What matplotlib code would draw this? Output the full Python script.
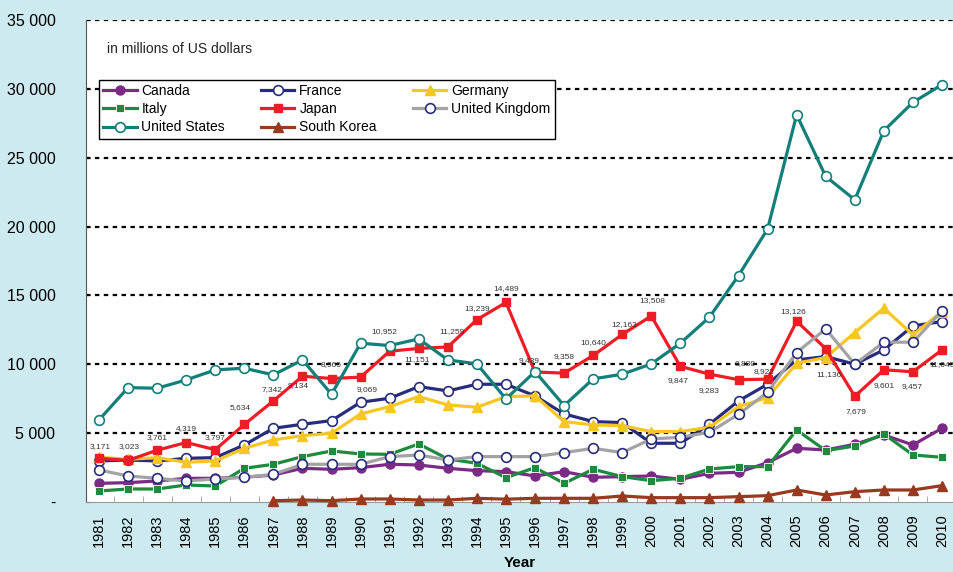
import matplotlib
matplotlib.use("Agg")
import matplotlib.pyplot as plt
from matplotlib.ticker import FixedLocator

plt.rcParams['font.family'] = ['Liberation Sans', 'DejaVu Sans']

years = list(range(1981, 2011))

canada = [1356, 1405, 1526, 1720, 1720, 1800, 1962, 2447, 2374, 2495, 2738, 2689, 2447, 2277, 2204,
          1889, 2204, 1793, 1841, 1889, 1647, 2083, 2156, 2858, 3900, 3779, 4190, 4869, 4142, 5353]
france = [2980, 3050, 2980, 3173, 3222, 4142, 5353, 5644, 5910, 7243, 7534, 8380, 8066, 8550, 8550,
          7703, 6395, 5838, 5765, 4265, 4265, 5644, 7340, 8550, 10319, 10560, 10004, 11046, 12790, 13103]
germany = [3250, 3100, 3222, 2882, 2980, 3900, 4505, 4820, 4990, 6395, 6926, 7655, 7049, 6878, 7655,
           7703, 5838, 5596, 5547, 5111, 5111, 5426, 6926, 7582, 10077, 10489, 12306, 14074, 12136, 13830]
italy = [799, 945, 945, 1235, 1163, 2447, 2738, 3295, 3706, 3488, 3464, 4215, 3125, 2810, 1768,
         2495, 1356, 2374, 1841, 1550, 1720, 2398, 2568, 2568, 5232, 3730, 4069, 4941, 3415, 3246]
japan = [3171, 3023, 3761, 4319, 3797, 5634, 7342, 9134, 8965, 9069, 10952, 11151, 11259, 13239, 14489,
         9439, 9358, 10640, 12163, 13508, 9847, 9283, 8880, 8922, 13126, 11136, 7679, 9601, 9457, 11045]
uk = [2325, 1889, 1720, 1526, 1671, 1793, 2011, 2738, 2738, 2738, 3295, 3415, 3052, 3295, 3295,
      3295, 3585, 3900, 3585, 4578, 4700, 5063, 6371, 7970, 10852, 12572, 10004, 11605, 11605, 13880]
usa = [5959, 8306, 8260, 8866, 9593, 9714, 9229, 10319, 7826, 11531, 11360, 11845, 10319, 10028, 7485,
       9472, 6999, 8939, 9279, 10028, 11531, 13420, 16445, 19817, 28123, 23640, 21946, 26961, 29018, 30303]
korea_years = list(range(1987, 2011))
korea = [97, 145, 97, 218, 218, 145, 145, 267, 206, 267, 267, 267, 436, 315, 315, 315,
         388, 460, 872, 509, 750, 872, 872, 1187]

japan_labels = ['3,171', '3,023', '3,761', '4,319', '3,797', '5,634', '7,342', '9,134', '8,965', '9,069',
                '10,952', '11,151', '11,259', '13,239', '14,489', '9,439', '9,358', '10,640', '12,163',
                '13,508', '9,847', '9,283', '8,880', '8,922', '13,126', '11,136', '7,679', '9,601',
                '9,457', '11,045']

y_ticks = [0, 5000, 10000, 15000, 20000, 25000, 30000, 35000]
y_ticklabels = ['-', '5 000', '10 000', '15 000', '20 000', '25 000', '30 000', '35 000']

# label offsets in pixels (dx, dy up)
label_offsets = [(1, 12), (1, 14), (0, 13), (0, 14), (0, 12), (-4, 17), (-1, 11), (-4, -9), (0, 14),
                 (7, -12), (-5, 20), (-2, -11), (4, 15), (0, 11), (0, 14), (-6, 11), (0, 17), (0, 13),
                 (2, 10), (1, 15), (-2, -14), (0, -16), (7, 16), (-4, 8), (-3, 10), (3, -26), (1, -15),
                 (0, -16), (-1, -15), (0, -15)]

bg = '#CDEAF0'
fig = plt.figure(figsize=(9.54, 5.72), dpi=100, facecolor=bg)
ax = fig.add_axes([86 / 954, 70 / 572, 868 / 954, 482 / 572])
ax.set_facecolor('white')

lw = 2.3
series = [
    ('Canada', years, canada, dict(color='#7B2A86', marker='o', ms=6.5, mfc='#7B2A86', mec='#7B2A86')),
    ('France', years, france, dict(color='#272C7C', marker='o', ms=7, mfc='white', mec='#272C7C', mew=1.2)),
    ('Germany', years, germany, dict(color='#F6C623', marker='^', ms=7.5, mfc='#F6C623', mec='#F6C623')),
    ('Italy', years, italy, dict(color='#1E8A3E', marker='s', ms=5.5, mfc='#1E8A3E', mec='white', mew=0.6)),
    ('Japan', years, japan, dict(color='#EE1D25', marker='s', ms=5.5, mfc='#EE1D25', mec='#EE1D25')),
    ('United Kingdom', years, uk, dict(color='#A3A3A3', marker='o', ms=7, mfc='white', mec='#272C7C', mew=1.2)),
    ('United States', years, usa, dict(color='#137F79', marker='o', ms=7, mfc='white', mec='#137F79', mew=1.2)),
    ('South Korea', korea_years, korea, dict(color='#983A1F', marker='^', ms=7.5, mfc='#983A1F', mec='#983A1F')),
]
handles = {}
for i, (name, xs, ys, st) in enumerate(series):
    h, = ax.plot(xs, ys, lw=lw, label=name, zorder=3 + i * 0.1,
                 clip_on=(name != 'South Korea'), **st)
    handles[name] = h

for x, y, lab, (dx, dy) in zip(years, japan, japan_labels, label_offsets):
    ax.annotate(lab, (x, y), xytext=(dx * 0.72, dy * 0.72), textcoords='offset points',
                ha='center', va='center', fontsize=6, color='#333333', zorder=5)

ax.set_xlim(1980.553, 2010.413)
ax.set_ylim(0, 35000)
ax.set_yticks(y_ticks)
ax.set_yticklabels(y_ticklabels)
ax.set_xticks(years)
ax.set_xticklabels([str(y) for y in years], rotation=90)
ax.xaxis.set_minor_locator(FixedLocator([y + 0.5 for y in years[:-1]]))
ax.tick_params(axis='x', which='major', length=0, pad=9, labelsize=10.5)
ax.tick_params(axis='x', which='minor', direction='in', length=4, color='#999999')
ax.tick_params(axis='y', which='major', length=3, direction='in', pad=22, labelsize=11.5)
for y in y_ticks[1:]:
    ax.axhline(y, color='black', lw=1.6, ls=(0, (2, 2)), zorder=1)
ax.spines['top'].set_visible(False)
ax.spines['right'].set_visible(False)
ax.spines['left'].set_color('#555555')
ax.spines['bottom'].set_color('#999999')
ax.set_xlabel('Year', fontsize=11, fontweight='bold', labelpad=6)

ax.text((107 - 86) / 868, (502 - 49) / 482, 'in millions of US dollars',
        transform=ax.transAxes, fontsize=10, va='center', ha='left', color='#222222')

order = ['Canada', 'Italy', 'United States', 'France', 'Japan', 'South Korea', 'Germany', 'United Kingdom']
leg = ax.legend([handles[n] for n in order], order, ncol=3, loc='upper left',
                bbox_to_anchor=((99 - 86) / 868, (502 - 80) / 482), borderaxespad=0,
                fontsize=10, frameon=True, fancybox=False, framealpha=1, handlelength=2.4,
                handletextpad=0.35, columnspacing=2.6, labelspacing=0.3, borderpad=0.3)
leg.set_zorder(10)
leg.get_frame().set_edgecolor('black')
leg.get_frame().set_linewidth(1.0)

fig.savefig('out.png', dpi=100, facecolor=bg)
